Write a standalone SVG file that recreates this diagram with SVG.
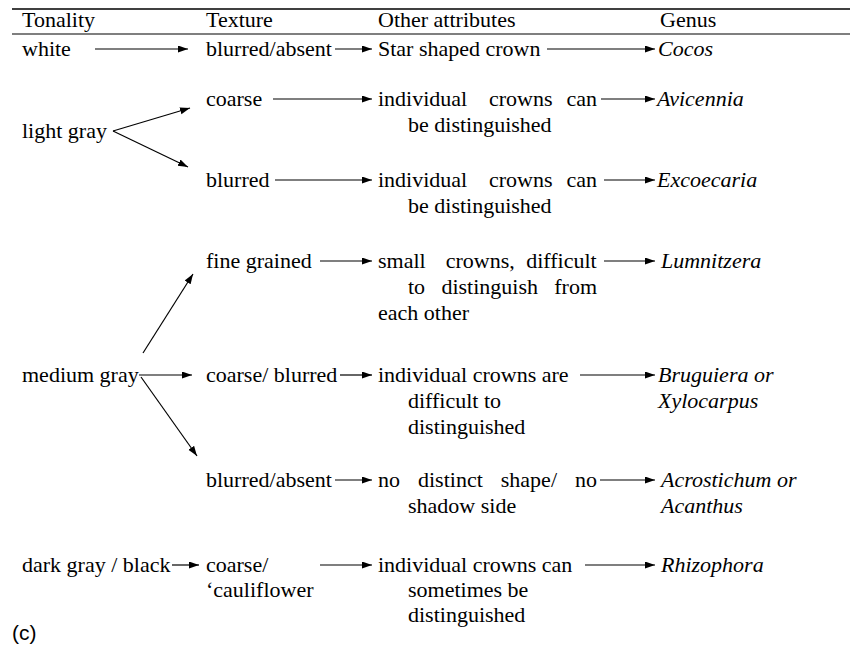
<svg xmlns="http://www.w3.org/2000/svg" width="850" height="652" viewBox="0 0 850 652" font-family="'Liberation Serif','Times New Roman',serif">
<style>
text{font-family:"Liberation Serif","Times New Roman",serif;font-size:22px;fill:#000}
.g{font-style:italic}
.c{font-family:"Liberation Sans",Arial,sans-serif;font-size:21px}
.rule{stroke:#000;fill:none}
.ar{stroke:#000;stroke-width:1.2;fill:none;marker-end:url(#ah)}
</style>
<defs>
<marker id="ah" markerUnits="userSpaceOnUse" markerWidth="11" markerHeight="8" refX="10" refY="3.5" orient="auto">
<path d="M0,0 L10,3.5 L0,7 z" fill="#000"/>
</marker>
</defs>
<rect width="850" height="652" fill="#fff"/>
<line class="rule" x1="12" y1="9" x2="850" y2="9" stroke-width="1.6"/>
<line class="rule" x1="12" y1="34" x2="850" y2="34" stroke-width="1.2"/>
<g id="header">
<text x="22" y="27">Tonality</text>
<text x="206" y="27">Texture</text>
<text x="378" y="27">Other attributes</text>
<text x="660" y="27">Genus</text>
</g>
<g id="t-white"><text x="22" y="56">white</text></g>
<g id="x-blurred-absent-1"><text x="206" y="56">blurred/absent</text></g>
<g id="o-star"><text x="378" y="56">Star shaped crown</text></g>
<g id="g-cocos"><text class="g" x="658" y="56">Cocos</text></g>

<g id="t-lightgray"><text x="22" y="138">light gray</text></g>
<g id="x-coarse"><text x="206" y="106">coarse</text></g>
<g id="o-ind1"><text y="106"><tspan x="378">individual</tspan><tspan x="489">crowns</tspan><tspan x="566.5">can</tspan></text><text x="408" y="132">be distinguished</text></g>
<g id="g-avicennia"><text class="g" x="657" y="106">Avicennia</text></g>

<g id="x-blurred"><text x="206" y="187">blurred</text></g>
<g id="o-ind2"><text y="187"><tspan x="378">individual</tspan><tspan x="489">crowns</tspan><tspan x="566.5">can</tspan></text><text x="408" y="213">be distinguished</text></g>
<g id="g-excoecaria"><text class="g" x="657" y="187">Excoecaria</text></g>

<g id="t-mediumgray"><text x="22" y="382">medium gray</text></g>
<g id="x-fine"><text x="206" y="268">fine grained</text></g>
<g id="o-small"><text y="268"><tspan x="378">small</tspan><tspan x="445.7">crowns,</tspan><tspan x="526.2">difficult</tspan></text><text y="294"><tspan x="408">to</tspan><tspan x="441.4">distinguish</tspan><tspan x="554.3">from</tspan></text><text x="378" y="320">each other</text></g>
<g id="g-lumnitzera"><text class="g" x="661" y="268">Lumnitzera</text></g>

<g id="x-coarse-blurred"><text x="206" y="382">coarse/ blurred</text></g>
<g id="o-ind3"><text x="378" y="382">individual crowns are</text><text x="408" y="408">difficult to</text><text x="408" y="434">distinguished</text></g>
<g id="g-bruguiera"><text class="g" x="658" y="382">Bruguiera or</text><text class="g" x="658" y="408">Xylocarpus</text></g>

<g id="x-blurred-absent-2"><text x="206" y="487">blurred/absent</text></g>
<g id="o-nodistinct"><text y="487"><tspan x="378">no</tspan><tspan x="418">distinct</tspan><tspan x="500.8">shape/</tspan><tspan x="575">no</tspan></text><text x="408" y="513">shadow side</text></g>
<g id="g-acrostichum"><text class="g" x="661" y="487">Acrostichum or</text><text class="g" x="661" y="513">Acanthus</text></g>

<g id="t-darkgray"><text x="22" y="572">dark gray / black</text></g>
<g id="x-cauliflower"><text x="206" y="572">coarse/</text><text x="206" y="597">‘cauliflower</text></g>
<g id="o-ind4"><text x="378" y="572">individual crowns can</text><text x="408" y="597">sometimes be</text><text x="408" y="622">distinguished</text></g>
<g id="g-rhizophora"><text class="g" x="661" y="572">Rhizophora</text></g>

<text class="c" x="12" y="640">(c)</text>

<g id="connectors">
<line class="ar" x1="95" y1="49" x2="188" y2="49"/>
<line class="ar" x1="335" y1="49" x2="372" y2="49"/>
<line class="ar" x1="547" y1="49" x2="655" y2="49"/>
<line class="ar" x1="273" y1="99" x2="372" y2="99"/>
<line class="ar" x1="601" y1="99" x2="655" y2="99"/>
<line class="ar" x1="113" y1="131" x2="190" y2="108"/>
<line class="ar" x1="113" y1="131" x2="188" y2="167"/>
<line class="ar" x1="275" y1="180" x2="372" y2="180"/>
<line class="ar" x1="604" y1="180" x2="655" y2="180"/>
<line class="ar" x1="320" y1="261" x2="372" y2="261"/>
<line class="ar" x1="604" y1="261" x2="655" y2="261"/>
<line class="ar" x1="143" y1="353" x2="193" y2="274"/>
<line class="ar" x1="139" y1="375" x2="192" y2="375"/>
<line class="ar" x1="141" y1="377" x2="197" y2="456"/>
<line class="ar" x1="340" y1="375" x2="372" y2="375"/>
<line class="ar" x1="580" y1="375" x2="655" y2="375"/>
<line class="ar" x1="335" y1="480" x2="372" y2="480"/>
<line class="ar" x1="600" y1="480" x2="655" y2="480"/>
<line class="ar" x1="172" y1="565" x2="199" y2="565"/>
<line class="ar" x1="320" y1="565" x2="372" y2="565"/>
<line class="ar" x1="585" y1="565" x2="655" y2="565"/>
</g>
</svg>
